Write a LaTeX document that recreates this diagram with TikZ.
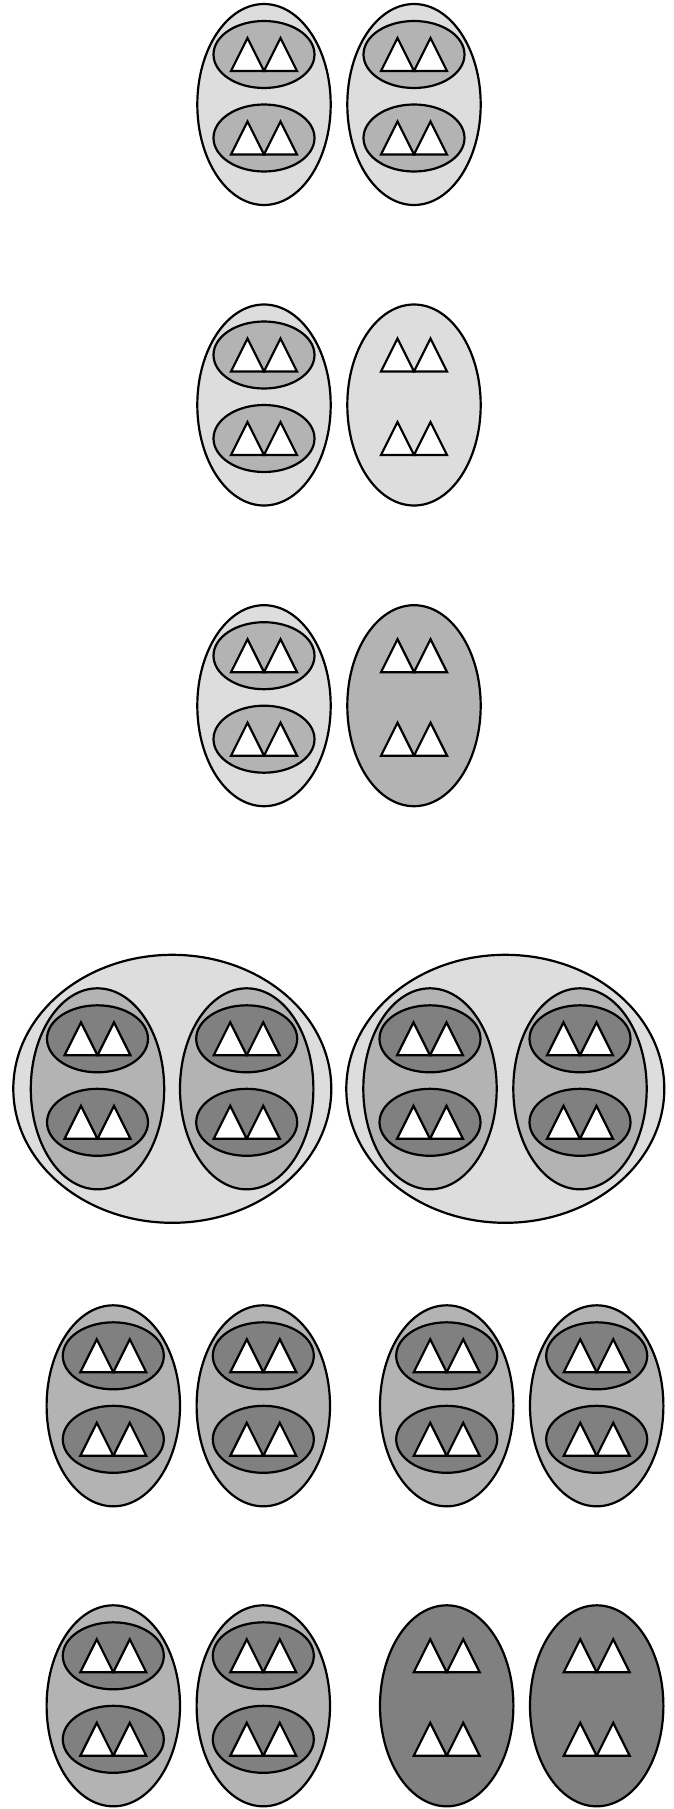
\documentclass[tikz,border=0pt]{standalone}
\usepackage{tikz}

\definecolor{cLight}{RGB}{221,221,221}
\definecolor{cMid}{RGB}{179,179,179}
\definecolor{cDark}{RGB}{128,128,128}

\tikzset{
  ring/.style={draw=black, line width=2.2pt},
  peak/.style={draw=black, fill=white, line width=2.2pt}
}

% two triangles side by side, centred at (#1,#2)
\newcommand{\peaks}[2]{%
  \draw[peak] ({#1-33},{#2+16.5}) -- ({#1-16.5},{#2-16.5}) -- (#1,{#2+16.5}) -- cycle;
  \draw[peak] (#1,{#2+16.5}) -- ({#1+16.5},{#2-16.5}) -- ({#1+33},{#2+16.5}) -- cycle;}

% group with two inner rings: centre (#1,#2), fill #3, inner fill #4
\newcommand{\cell}[4]{%
  \draw[ring, fill=#3] (#1,#2) ellipse [x radius=66.7pt, y radius=100.5pt];
  \draw[ring, fill=#4] (#1,{#2-50}) ellipse [x radius=50.5pt, y radius=33.5pt];
  \draw[ring, fill=#4] (#1,{#2+33.5}) ellipse [x radius=50.5pt, y radius=33.5pt];
  \peaks{#1}{#2-50}
  \peaks{#1}{#2+33.5}}

% group without inner rings
\newcommand{\bare}[3]{%
  \draw[ring, fill=#3] (#1,#2) ellipse [x radius=66.7pt, y radius=100.5pt];
  \peaks{#1}{#2-50}
  \peaks{#1}{#2+33.5}}

\begin{document}
\begin{tikzpicture}[x=1pt, y=-1pt]
    \useasboundingbox (0,0) rectangle (674,1809);

    % Row 1
    \cell{264}{104.5}{cLight}{cMid}
    \cell{414}{104.5}{cLight}{cMid}

    % Row 2
    \cell{264}{405}{cLight}{cMid}
    \bare{414}{405}{cLight}

    % Row 3
    \cell{264}{705.7}{cLight}{cMid}
    \bare{414}{705.7}{cMid}

    % Row 4: two big rings
    \draw[ring, fill=cLight] (172.3,1088.8) ellipse [x radius=159pt, y radius=134pt];
    \draw[ring, fill=cLight] (505.3,1088.8) ellipse [x radius=159pt, y radius=134pt];
    \cell{97.5}{1088.8}{cMid}{cDark}
    \cell{246.7}{1088.8}{cMid}{cDark}
    \cell{430}{1088.8}{cMid}{cDark}
    \cell{580}{1088.8}{cMid}{cDark}

    % Row 5
    \cell{113.3}{1405.8}{cMid}{cDark}
    \cell{263.3}{1405.8}{cMid}{cDark}
    \cell{446.7}{1405.8}{cMid}{cDark}
    \cell{596.7}{1405.8}{cMid}{cDark}

    % Row 6
    \cell{113.3}{1705.8}{cMid}{cDark}
    \cell{263.3}{1705.8}{cMid}{cDark}
    \bare{446.7}{1705.8}{cDark}
    \bare{596.7}{1705.8}{cDark}
\end{tikzpicture}
\end{document}
